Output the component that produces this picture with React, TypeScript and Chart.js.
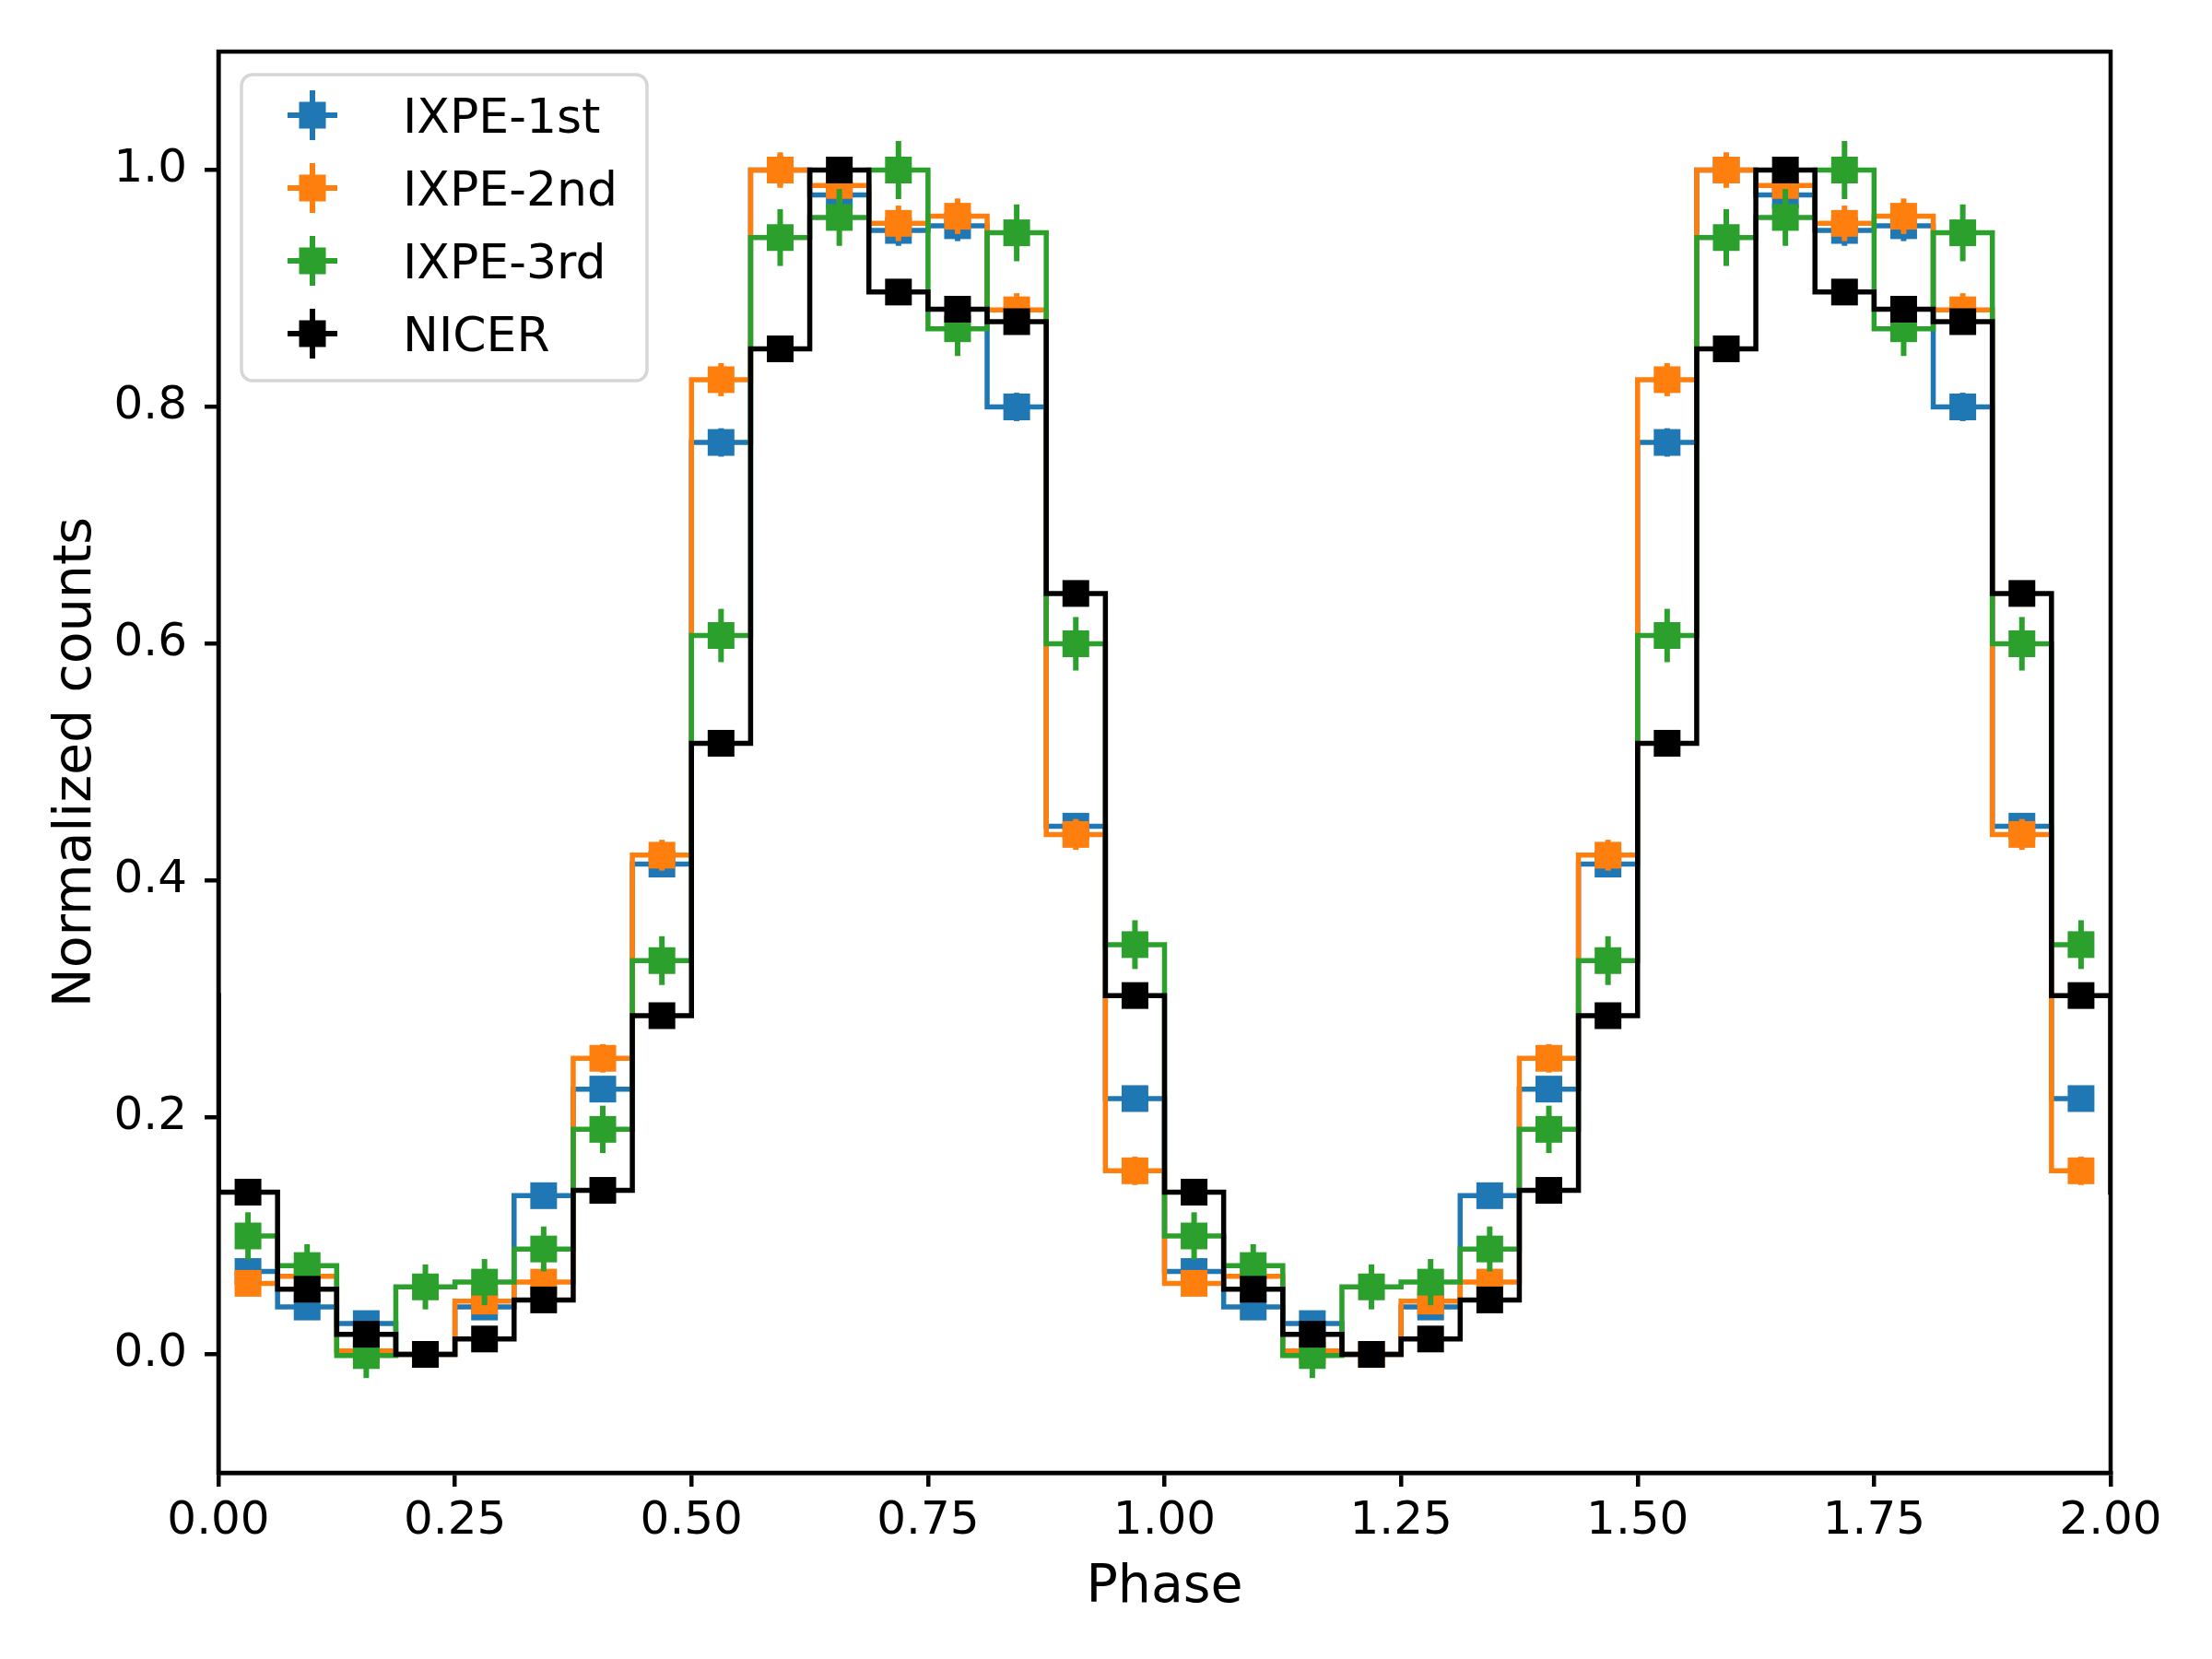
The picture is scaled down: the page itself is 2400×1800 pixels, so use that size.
import { useEffect, useRef } from 'react';
import Chart from 'chart.js/auto';

// phase bin centres of one cycle (16 bins), plotted for two cycles
const BIN_CENTERS = [
  0.03125, 0.09375, 0.15625, 0.21875, 0.28125, 0.34375, 0.40625, 0.46875,
  0.53125, 0.59375, 0.65625, 0.71875, 0.78125, 0.84375, 0.90625, 0.96875,
];
const CYCLES = [0, 1];

const X_TICKS = [0, 0.25, 0.5, 0.75, 1, 1.25, 1.5, 1.75, 2];
const Y_TICKS = [0, 0.2, 0.4, 0.6, 0.8, 1.0];

const IXPE_1ST = [0.07, 0.04, 0.026, 0.0, 0.04, 0.134, 0.224, 0.414, 0.77, 1.0, 0.979, 0.949, 0.953, 0.8, 0.446, 0.216];
const IXPE_1ST_ERR = [0.008, 0.007, 0.006, 0.005, 0.007, 0.009, 0.01, 0.011, 0.012, 0.013, 0.013, 0.013, 0.013, 0.012, 0.011, 0.009];

const IXPE_2ND = [0.06, 0.066, 0.003, 0.0, 0.045, 0.061, 0.25, 0.4215, 0.823, 1.0, 0.987, 0.955, 0.961, 0.882, 0.439, 0.155];
const IXPE_2ND_ERR = [0.01, 0.01, 0.008, 0.011, 0.01, 0.01, 0.012, 0.013, 0.014, 0.015, 0.015, 0.015, 0.015, 0.014, 0.013, 0.012];

const IXPE_3RD = [0.1, 0.075, -0.001, 0.057, 0.061, 0.089, 0.19, 0.3325, 0.607, 0.943, 0.96, 1.0, 0.866, 0.947, 0.6, 0.346];
const IXPE_3RD_ERR = [0.02, 0.018, 0.019, 0.019, 0.0195, 0.019, 0.02, 0.0206, 0.0225, 0.024, 0.024, 0.0245, 0.023, 0.024, 0.0226, 0.0206];

const NICER = [0.137, 0.055, 0.017, 0.0, 0.013, 0.046, 0.1385, 0.286, 0.516, 0.849, 1.0, 0.897, 0.8825, 0.872, 0.6425, 0.303];
const NICER_ERR = [0.003, 0.003, 0.003, 0.003, 0.003, 0.003, 0.003, 0.003, 0.003, 0.003, 0.003, 0.003, 0.003, 0.003, 0.003, 0.003];

// NICER's step line runs on past both ends of the axis; the IXPE ones stop at the outer bin centres
const SERIES = [
  { label: 'IXPE-1st', color: '#1f77b4', values: IXPE_1ST, errors: IXPE_1ST_ERR, wrap: false },
  { label: 'IXPE-2nd', color: '#ff7f0e', values: IXPE_2ND, errors: IXPE_2ND_ERR, wrap: false },
  { label: 'IXPE-3rd', color: '#2ca02c', values: IXPE_3RD, errors: IXPE_3RD_ERR, wrap: false },
  { label: 'NICER', color: '#000000', values: NICER, errors: NICER_ERR, wrap: true },
];

const FONT = '"DejaVu Sans", sans-serif';

function stepPoints(values: number[], wrap: boolean) {
  const n = values.length;
  const pts: { x: number; y: number }[] = [];
  if (wrap) pts.push({ x: BIN_CENTERS[n - 1] + CYCLES[0] - 1, y: values[n - 1] });
  CYCLES.forEach((c) => {
    values.forEach((v, i) => pts.push({ x: BIN_CENTERS[i] + c, y: v }));
  });
  if (wrap) pts.push({ x: BIN_CENTERS[0] + CYCLES[CYCLES.length - 1] + 1, y: values[0] });
  return pts;
}

function markerPoints(values: number[], errors: number[]) {
  const pts: { x: number; y: number; err: number }[] = [];
  CYCLES.forEach((c) => {
    values.forEach((v, i) => pts.push({ x: BIN_CENTERS[i] + c, y: v, err: errors[i] }));
  });
  return pts;
}

const errorBarPlugin = {
  id: 'errorBars',
  beforeDatasetDraw(chart: any, args: any) {
    const ds = chart.data.datasets[args.index];
    if (!ds.isMarkers) return;
    const { ctx, scales } = chart;
    ctx.save();
    ctx.strokeStyle = ds.backgroundColor;
    ctx.lineWidth = 6;
    ctx.lineCap = 'butt';
    ds.data.forEach((p: any, i: number) => {
      const el = args.meta.data[i];
      if (!el) return;
      ctx.beginPath();
      ctx.moveTo(el.x, scales.y.getPixelForValue(p.y - p.err));
      ctx.lineTo(el.x, scales.y.getPixelForValue(p.y + p.err));
      ctx.stroke();
    });
    ctx.restore();
  },
};

const framePlugin = {
  id: 'frameAndLegend',
  afterDatasetsDraw(chart: any) {
    const { ctx, chartArea: a } = chart;
    ctx.save();
    ctx.strokeStyle = '#000';
    ctx.lineWidth = 4.5;
    ctx.strokeRect(a.left, a.top, a.right - a.left, a.bottom - a.top);

    // legend box
    const bx = a.left + 25;
    const by = a.top + 25;
    ctx.beginPath();
    ctx.roundRect(bx, by, 440, 332, 12);
    ctx.fillStyle = 'rgba(255,255,255,0.8)';
    ctx.fill();
    ctx.strokeStyle = '#d6d6d6';
    ctx.lineWidth = 3.5;
    ctx.stroke();

    ctx.font = `52px ${FONT}`;
    ctx.textAlign = 'left';
    ctx.textBaseline = 'alphabetic';
    SERIES.forEach((s, i) => {
      const cx = bx + 77;
      const cy = by + 44 + i * 79;
      ctx.strokeStyle = s.color;
      ctx.lineWidth = 6;
      ctx.beginPath();
      ctx.moveTo(cx - 27, cy);
      ctx.lineTo(cx + 27, cy);
      ctx.moveTo(cx, cy - 27);
      ctx.lineTo(cx, cy + 27);
      ctx.stroke();
      ctx.fillStyle = s.color;
      ctx.fillRect(cx - 14.5, cy - 14.5, 29, 29);
      ctx.fillStyle = '#000';
      ctx.fillText(s.label, bx + 175, cy + 19);
    });
    ctx.restore();
  },
};

export default function App() {
  const canvasRef = useRef<HTMLCanvasElement | null>(null);

  useEffect(() => {
    document.body.style.margin = '0';
    if (!canvasRef.current) return;

    const datasets: any[] = [];
    SERIES.forEach((s, k) => {
      const base = (SERIES.length - k) * 2;
      datasets.push({
        label: s.label + ' step',
        data: stepPoints(s.values, s.wrap),
        borderColor: s.color,
        borderWidth: 5.5,
        stepped: 'middle',
        pointRadius: 0,
        fill: false,
        clip: 0,
        order: base,
      });
      datasets.push({
        label: s.label,
        data: markerPoints(s.values, s.errors),
        isMarkers: true,
        showLine: false,
        backgroundColor: s.color,
        borderColor: s.color,
        pointStyle: 'rect',
        pointRadius: 20.5,
        pointBorderWidth: 0,
        pointHoverRadius: 20.5,
        order: base - 1,
      });
    });

    const tickFont = { family: FONT, size: 50 };
    const titleFont = { family: FONT, size: 57, lineHeight: 1.2 };

    const chart = new Chart(canvasRef.current, {
      type: 'line',
      data: { datasets },
      options: {
        animation: false,
        responsive: false,
        devicePixelRatio: 1,
        events: [],
        layout: { padding: { top: 56, right: 110, left: 0, bottom: 0 } },
        plugins: { legend: { display: false }, tooltip: { enabled: false } },
        scales: {
          x: {
            type: 'linear',
            min: 0,
            max: 2,
            afterBuildTicks: (scale: any) => {
              scale.ticks = X_TICKS.map((value) => ({ value }));
            },
            afterFit: (scale: any) => {
              scale.height = 202;
            },
            ticks: {
              font: tickFont,
              color: '#000',
              padding: 8,
              maxRotation: 0,
              autoSkip: false,
              callback: (v: any) => Number(v).toFixed(2),
            },
            grid: {
              display: true,
              drawOnChartArea: false,
              drawTicks: true,
              tickLength: 15,
              lineWidth: 4.5,
              color: '#000',
            },
            border: { display: true, color: '#000', width: 4.5 },
            title: {
              display: true,
              text: 'Phase',
              color: '#000',
              font: titleFont,
              padding: { top: 0, bottom: 43 },
            },
          },
          y: {
            type: 'linear',
            min: -0.1,
            max: 1.1,
            afterBuildTicks: (scale: any) => {
              scale.ticks = Y_TICKS.map((value) => ({ value }));
            },
            afterFit: (scale: any) => {
              scale.width = 237;
            },
            ticks: {
              font: tickFont,
              color: '#000',
              padding: 19,
              callback: (v: any) => Number(v).toFixed(1),
            },
            grid: {
              display: true,
              drawOnChartArea: false,
              drawTicks: true,
              tickLength: 15,
              lineWidth: 4.5,
              color: '#000',
            },
            border: { display: true, color: '#000', width: 4.5 },
            title: {
              display: true,
              text: 'Normalized counts',
              color: '#000',
              font: titleFont,
              padding: { top: 49, bottom: 0 },
            },
          },
        },
      },
      plugins: [errorBarPlugin, framePlugin],
    } as any);

    return () => {
      chart.destroy();
    };
  }, []);

  return (
    <div style={{ width: '2400px', height: '1800px', background: '#fff' }}>
      <canvas ref={canvasRef} width={2400} height={1800} style={{ display: 'block', width: '2400px', height: '1800px' }}></canvas>
    </div>
  );
}
